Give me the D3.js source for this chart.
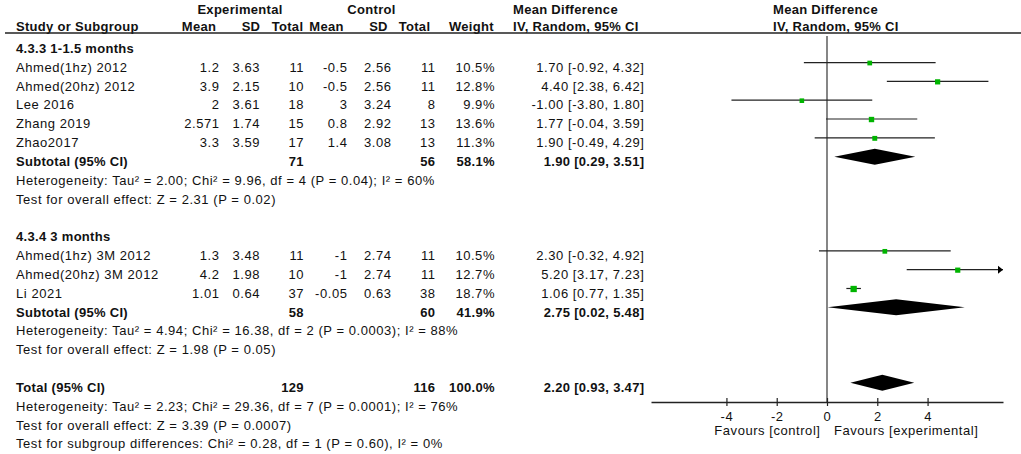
<!DOCTYPE html>
<html>
<head>
<meta charset="utf-8">
<script src="https://cdn.jsdelivr.net/npm/d3@7/dist/d3.min.js"></script>
<style>
  html, body { margin: 0; padding: 0; background: #fff; }
  svg { display: block; font-family: "Liberation Sans", Arial, sans-serif; }
  text { font-size: 13px; letter-spacing: 0.55px; fill: #111; }
  .b { font-weight: bold; letter-spacing: 0.3px; }
</style>
</head>
<body>
<svg id="chart" width="1021" height="454"></svg>
<script>
// ---------------- DATA ----------------
const groupTitles = ["4.3.3 1-1.5 months", "4.3.4 3 months"];
const studies = ["Ahmed(1hz) 2012", "Ahmed(20hz) 2012", "Lee 2016", "Zhang 2019", "Zhao2017",
                 "Ahmed(1hz) 3M 2012", "Ahmed(20hz) 3M 2012", "Li 2021"];
const studyGroup = [0, 0, 0, 0, 0, 1, 1, 1];
const expMean = [1.2, 3.9, 2, 2.571, 3.3, 1.3, 4.2, 1.01];
const expSD   = [3.63, 2.15, 3.61, 1.74, 3.59, 3.48, 1.98, 0.64];
const expN    = [11, 10, 18, 15, 17, 11, 10, 37];
const ctlMean = [-0.5, -0.5, 3, 0.8, 1.4, -1, -1, -0.05];
const ctlSD   = [2.56, 2.56, 3.24, 2.92, 3.08, 2.74, 2.74, 0.63];
const ctlN    = [11, 11, 8, 13, 13, 11, 11, 38];
const weights = [10.5, 12.8, 9.9, 13.6, 11.3, 10.5, 12.7, 18.7];
const md      = [1.70, 4.40, -1.00, 1.77, 1.90, 2.30, 5.20, 1.06];
const ciLow   = [-0.92, 2.38, -3.80, -0.04, -0.49, -0.32, 3.17, 0.77];
const ciHigh  = [4.32, 6.42, 1.80, 3.59, 4.29, 4.92, 7.23, 1.35];

const subExpN   = [71, 58];
const subCtlN   = [56, 60];
const subWeight = [58.1, 41.9];
const subMD     = [1.90, 2.75];
const subLow    = [0.29, 0.02];
const subHigh   = [3.51, 5.48];
const subHet    = ["Heterogeneity: Tau² = 2.00; Chi² = 9.96, df = 4 (P = 0.04); I² = 60%",
                   "Heterogeneity: Tau² = 4.94; Chi² = 16.38, df = 2 (P = 0.0003); I² = 88%"];
const subTest   = ["Test for overall effect: Z = 2.31 (P = 0.02)",
                   "Test for overall effect: Z = 1.98 (P = 0.05)"];

const totalExpN = 129, totalCtlN = 116, totalWeight = 100.0;
const totalMD = 2.20, totalLow = 0.93, totalHigh = 3.47;
const totalNotes = ["Heterogeneity: Tau² = 2.23; Chi² = 29.36, df = 7 (P = 0.0001); I² = 76%",
                    "Test for overall effect: Z = 3.39 (P = 0.0007)",
                    "Test for subgroup differences: Chi² = 0.28, df = 1 (P = 0.60), I² = 0%"];

const axisDomain = [-7, 7];
const tickValues = [-4, -2, 0, 2, 4];
const favourLabels = ["Favours [control]", "Favours [experimental]"];

// ---------------- LAYOUT ----------------
const svg = d3.select("#chart");
const x = d3.scaleLinear().domain(axisDomain).range([651, 1003]);
const rowY = d3.scaleLinear().domain([0, 1]).range([43.7, 43.7 + 18.83]);
const sq = d3.scaleSqrt().domain([0, 18.7]).range([0, 6.3]);
const TB = 9.2; // text baseline offset from row line
const LS = 0.5; // compensate trailing letter-spacing on right-aligned text

const col = { study: 16, eMean: 219, eSD: 259.5, eN: 303.5, cMean: 347, cSD: 391, cN: 435, w: 494.5, ci: 644 };
const fmtW = w => w.toFixed(1) + "%";
const fmtCI = (m, l, h) => `${m.toFixed(2)} [${l.toFixed(2)}, ${h.toFixed(2)}]`;

// build rows
const rows = [];
let r = 0;
groupTitles.forEach((g, gi) => {
  rows.push({ type: "group", i: r++, label: g });
  studies.forEach((s, si) => {
    if (studyGroup[si] === gi) rows.push({ type: "study", i: r++, si });
  });
  rows.push({ type: "sub", i: r++, gi });
  rows.push({ type: "note", i: r++, label: subHet[gi] });
  rows.push({ type: "note", i: r++, label: subTest[gi] });
  r++; // blank
});
rows.push({ type: "total", i: r++ });
totalNotes.forEach(t => rows.push({ type: "note", i: r++, label: t }));

// ---------------- HEADER ----------------
const hdr = svg.append("g");
const hb = (xx, y, t, anchor) => hdr.append("text").attr("class", "b").attr("x", xx).attr("y", y)
  .attr("text-anchor", anchor || "start").text(t);
hb(240, 14, "Experimental", "middle");
hb(371.5, 14, "Control", "middle");
hb(513, 14, "Mean Difference");
hb(773, 14, "Mean Difference");
hb(16, 30.5, "Study or Subgroup");
[["Mean", 216], ["SD", 260], ["Total", 303], ["Mean", 343.5], ["SD", 387.5], ["Total", 430], ["Weight", 493.5]]
  .forEach(([t, xx]) => hb(xx + 0.3, 30.5, t, "end"));
hb(513, 30.5, "IV, Random, 95% CI");
hb(773, 30.5, "IV, Random, 95% CI");
svg.append("line").attr("x1", 5).attr("x2", 1021).attr("y1", 33).attr("y2", 33)
  .attr("stroke", "#222").attr("stroke-width", 1.3);

// zero line
svg.append("line").attr("x1", x(0)).attr("x2", x(0)).attr("y1", 36).attr("y2", 402)
  .attr("stroke", "#444").attr("stroke-width", 1.3);

// ---------------- TABLE + PLOT ----------------
const tg = svg.append("g");
const putR = (g, xx, y, t, bold) => g.append("text").attr("x", xx + (bold ? 0.3 : LS)).attr("y", y)
  .attr("text-anchor", "end").attr("class", bold ? "b" : null).text(t);

function diamond(m, l, h, y) {
  const hh = 8;
  svg.append("path")
    .attr("d", `M${x(l)},${y}L${x(m)},${y - hh}L${x(h)},${y}L${x(m)},${y + hh}Z`)
    .attr("fill", "#000");
}

rows.forEach(row => {
  const y = rowY(row.i), ty = y + TB;
  if (row.type === "group") {
    tg.append("text").attr("x", col.study).attr("y", ty).attr("class", "b").text(row.label);
  } else if (row.type === "note") {
    tg.append("text").attr("x", col.study).attr("y", ty).text(row.label);
  } else if (row.type === "study") {
    const i = row.si;
    tg.append("text").attr("x", col.study).attr("y", ty).text(studies[i]);
    putR(tg, col.eMean, ty, String(expMean[i]));
    putR(tg, col.eSD, ty, String(expSD[i]));
    putR(tg, col.eN, ty, String(expN[i]));
    putR(tg, col.cMean, ty, String(ctlMean[i]));
    putR(tg, col.cSD, ty, String(ctlSD[i]));
    putR(tg, col.cN, ty, String(ctlN[i]));
    putR(tg, col.w, ty, fmtW(weights[i]));
    putR(tg, col.ci, ty, fmtCI(md[i], ciLow[i], ciHigh[i]));
    // CI line
    const lo = Math.max(ciLow[i], axisDomain[0]), hi = Math.min(ciHigh[i], axisDomain[1]);
    svg.append("line").attr("x1", x(lo)).attr("x2", x(hi)).attr("y1", y).attr("y2", y)
      .attr("stroke", "#222").attr("stroke-width", 1.2);
    if (ciHigh[i] > axisDomain[1]) {
      const xe = x(axisDomain[1]);
      svg.append("path").attr("d", `M${xe - 5},${y - 4}L${xe},${y}L${xe - 5},${y + 4}Z`).attr("fill", "#000");
    }
    const s = sq(weights[i]);
    svg.append("rect").attr("x", x(md[i]) - s / 2).attr("y", y - s / 2 + 0.5)
      .attr("width", s).attr("height", s).attr("fill", "#00b400");
  } else if (row.type === "sub") {
    const g = row.gi;
    tg.append("text").attr("x", col.study).attr("y", ty).attr("class", "b").text("Subtotal (95% CI)");
    putR(tg, col.eN, ty, String(subExpN[g]), true);
    putR(tg, col.cN, ty, String(subCtlN[g]), true);
    putR(tg, col.w, ty, fmtW(subWeight[g]), true);
    putR(tg, col.ci, ty, fmtCI(subMD[g], subLow[g], subHigh[g]), true);
    diamond(subMD[g], subLow[g], subHigh[g], y);
  } else if (row.type === "total") {
    tg.append("text").attr("x", col.study).attr("y", ty).attr("class", "b").text("Total (95% CI)");
    putR(tg, col.eN, ty, String(totalExpN), true);
    putR(tg, col.cN, ty, String(totalCtlN), true);
    putR(tg, col.w, ty, fmtW(totalWeight), true);
    putR(tg, col.ci, ty, fmtCI(totalMD, totalLow, totalHigh), true);
    diamond(totalMD, totalLow, totalHigh, y);
  }
});

// ---------------- AXIS ----------------
const ax = svg.append("g").attr("transform", "translate(0,402)")
  .call(d3.axisBottom(x).tickValues(tickValues).tickSizeInner(4).tickSizeOuter(0).tickFormat(d3.format("d")));
ax.attr("font-size", null).attr("font-family", null);
ax.select(".domain").attr("stroke", "#222").attr("stroke-width", 1.3);
ax.selectAll(".tick line").attr("y1", -4).attr("y2", 4).attr("stroke", "#222").attr("stroke-width", 1.2);
ax.selectAll(".tick text").attr("y", 9.5).attr("dy", "0.71em").attr("fill", "#111")
  .text(d => d < 0 ? "-" + Math.abs(d) : String(d));

svg.append("text").attr("x", 820 + LS).attr("y", 434.5).attr("text-anchor", "end").text(favourLabels[0]);
svg.append("text").attr("x", 834).attr("y", 434.5).text(favourLabels[1]);
</script>
</body>
</html>
